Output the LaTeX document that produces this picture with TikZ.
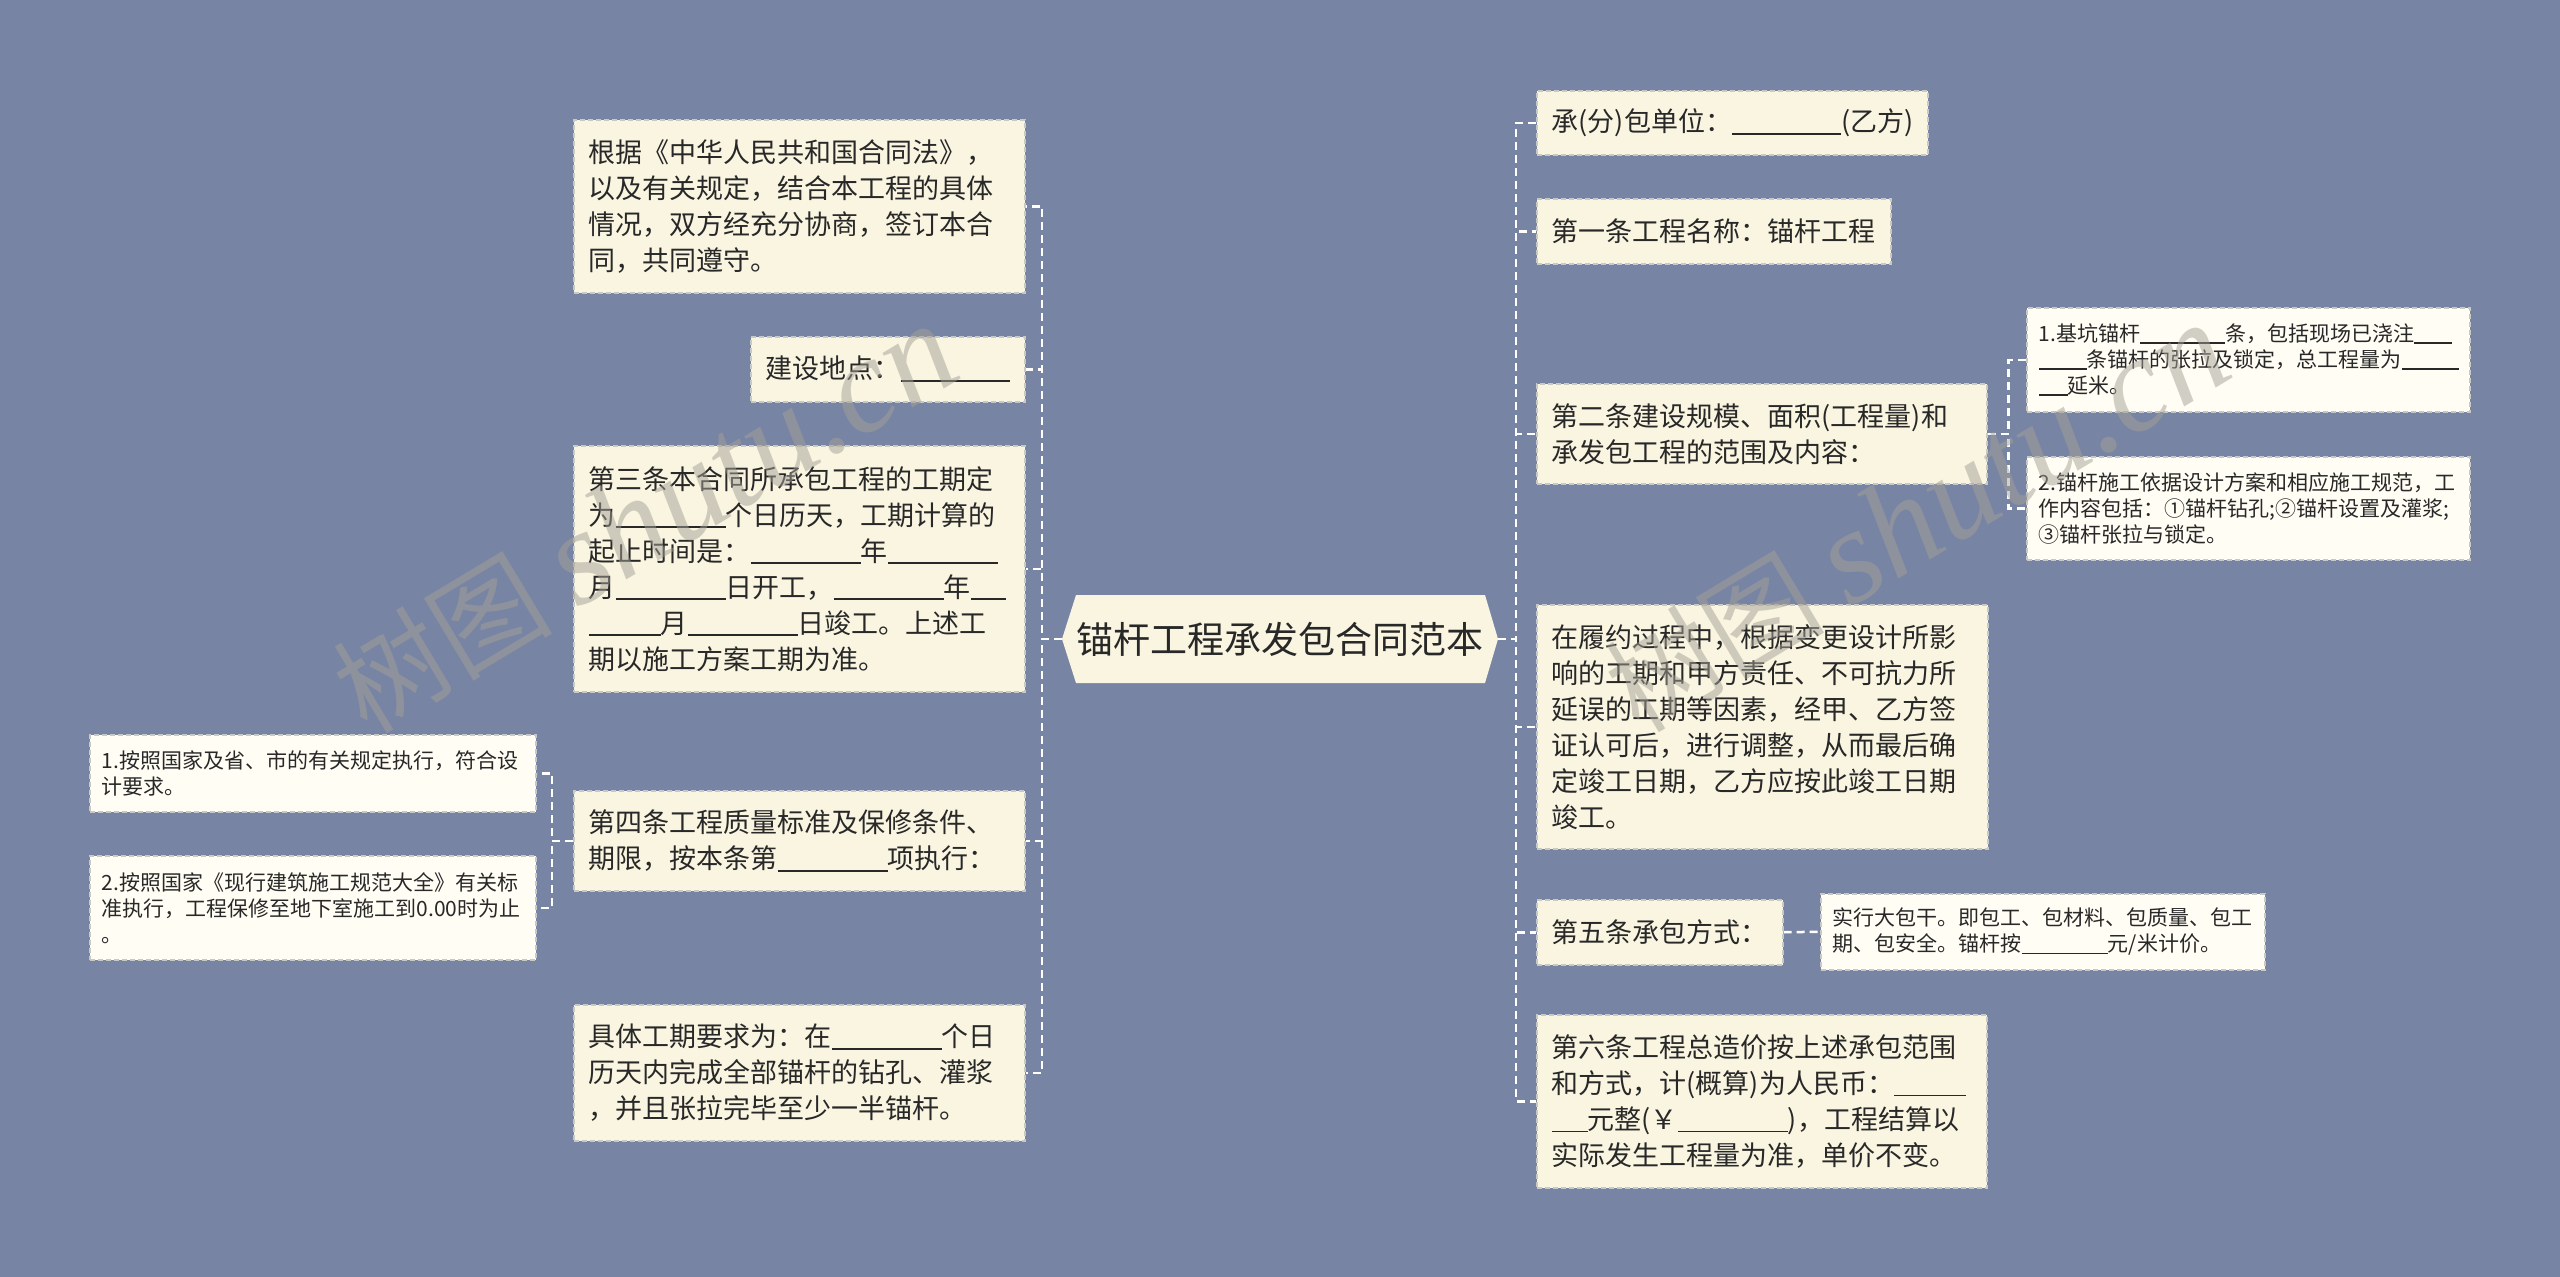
\documentclass[tikz,border=0pt]{standalone}
\usepackage{fontspec}
\setmainfont{Noto Sans CJK SC}
\newfontfamily\wmserif{Liberation Serif}
\definecolor{bg}{RGB}{119,132,164}
\definecolor{cream}{RGB}{249,245,225}
\definecolor{paper}{RGB}{255,253,244}
\definecolor{boxline}{RGB}{200,200,196}
\definecolor{ink}{RGB}{40,40,40}
\definecolor{wm}{RGB}{165,160,150}
\newcommand\bl[1]{\rule[-0.12em]{#1pt}{0.07em}}
\tikzset{
  conn/.style={draw=white, line width=2.5pt, dash pattern=on 8pt off 5pt},
  mainbox/.style={draw=boxline, fill=cream, line width=1.5pt, dash pattern=on 5pt off 3pt,
    inner xsep=15pt, inner ysep=0pt, align=left, text=ink, anchor=north west,
    font=\fontsize{27}{36}\selectfont},
  subbox/.style={mainbox, fill=paper, inner xsep=12pt, font=\fontsize{21}{26}\selectfont},
  wmark/.style={text=wm, opacity=0.5, rotate=31, inner sep=0pt}
}
\begin{document}
\begin{tikzpicture}[x=1pt,y=-1pt]
\useasboundingbox (0,0) rectangle (2560,1277);
\fill[bg] (0,0) rectangle (2560,1277);

% central node
\fill[cream] (1062,639) -- (1076,595) -- (1485,595) -- (1498,639) -- (1485,683) -- (1076,683) -- cycle;
\node[font=\fontsize{37}{44}\selectfont, text=ink, minimum width=436pt, minimum height=88pt, inner sep=0pt] (root) at (1280,639) {锚杆工程承发包合同范本};

% left boxes
\node[mainbox, minimum width=451pt, minimum height=173pt, text width=421pt] (La) at (573,119)
 {根据《中华人民共和国合同法》，\\以及有关规定，结合本工程的具体\\情况，双方经充分协商，签订本合\\同，共同遵守。};
\node[mainbox, minimum width=274pt, minimum height=65pt, text width=244pt] (Lb) at (750,336)
 {建设地点：\bl{109}};
\node[mainbox, minimum width=451pt, minimum height=246pt, text width=421pt] (Lc) at (573,445)
 {第三条本合同所承包工程的工期定\\为\bl{110}个日历天，工期计算的\\起止时间是：\bl{110}年\bl{110}\\月\bl{110}日开工，\bl{110}年\bl{35}\\\bl{72}月\bl{110}日竣工。上述工\\期以施工方案工期为准。};
\node[mainbox, minimum width=451pt, minimum height=100pt, text width=421pt] (Ld) at (573,790)
 {第四条工程质量标准及保修条件、\\期限，按本条第\bl{110}项执行：};
\node[mainbox, minimum width=451pt, minimum height=136pt, text width=421pt] (Le) at (573,1004)
 {具体工期要求为：在\bl{110}个日\\历天内完成全部锚杆的钻孔、灌浆\\，并且张拉完毕至少一半锚杆。};
\node[subbox, minimum width=446pt, minimum height=77pt, text width=422pt] (Ld1) at (89,734)
 {1.按照国家及省、市的有关规定执行，符合设\\计要求。};
\node[subbox, minimum width=446pt, minimum height=104pt, text width=422pt] (Ld2) at (89,855)
 {2.按照国家《现行建筑施工规范大全》有关标\\准执行，工程保修至地下室施工到0.00时为止\\。};

% right boxes
\node[mainbox, minimum width=391pt, minimum height=64pt, text width=361pt] (Ra) at (1536,90)
 {承(分)包单位：\bl{109}(乙方)};
\node[mainbox, minimum width=354pt, minimum height=65pt, text width=324pt] (Rb) at (1536,198)
 {第一条工程名称：锚杆工程};
\node[mainbox, minimum width=450pt, minimum height=100pt, text width=420pt] (Rc) at (1536,383)
 {第二条建设规模、面积(工程量)和\\承发包工程的范围及内容：};
\node[mainbox, minimum width=451pt, minimum height=244pt, text width=421pt] (Rd) at (1536,604)
 {在履约过程中，根据变更设计所影\\响的工期和甲方责任、不可抗力所\\延误的工期等因素，经甲、乙方签\\证认可后，进行调整，从而最后确\\定竣工日期，乙方应按此竣工日期\\竣工。};
\node[mainbox, minimum width=246pt, minimum height=65pt, text width=216pt] (Re) at (1536,899)
 {第五条承包方式：};
\node[mainbox, minimum width=450pt, minimum height=173pt, text width=420pt] (Rf) at (1536,1014)
 {第六条工程总造价按上述承包范围\\和方式，计(概算)为人民币：\bl{72}\\\bl{36}元整(￥\bl{110})，工程结算以\\实际发生工程量为准，单价不变。};
\node[subbox, minimum width=443pt, minimum height=104pt, text width=419pt] (Rc1) at (2026,307)
 {1.基坑锚杆\bl{85}条，包括现场已浇注\bl{38}\\\bl{48}条锚杆的张拉及锁定，总工程量为\bl{57}\\\bl{29}延米。};
\node[subbox, minimum width=443pt, minimum height=103pt, text width=419pt] (Rc2) at (2026,456)
 {2.锚杆施工依据设计方案和相应施工规范，工\\作内容包括：①锚杆钻孔;②锚杆设置及灌浆;\\③锚杆张拉与锁定。};
\node[subbox, minimum width=444pt, minimum height=76pt, text width=420pt] (Re1) at (1820,893)
 {实行大包干。即包工、包材料、包质量、包工\\期、包安全。锚杆按\bl{86}元/米计价。};

% connectors
\foreach \n in {La,Lb,Lc,Ld,Le} \draw[conn] (root.west) -- ++(-20,0) |- (\n.east);
\foreach \n in {Ra,Rb,Rc,Rd,Re,Rf} \draw[conn] (root.east) -- ++(18,0) |- (\n.west);
\foreach \n in {Ld1,Ld2} \draw[conn] (Ld.west) -- ++(-21,0) |- (\n.east);
\foreach \n in {Rc1,Rc2} \draw[conn] (Rc.east) -- ++(21,0) |- (\n.west);
\draw[conn] (Re.east) -- (Re1.west);

% watermarks
\node[wmark] (wm1) at (645,519) {\fontsize{110}{110}\selectfont 树图 \wmserif\itshape\fontsize{135}{135}\selectfont shutu.cn};
\node[wmark] (wm2) at (1917,518) {\fontsize{110}{110}\selectfont 树图 \wmserif\itshape\fontsize{135}{135}\selectfont shutu.cn};
\end{tikzpicture}
\end{document}
